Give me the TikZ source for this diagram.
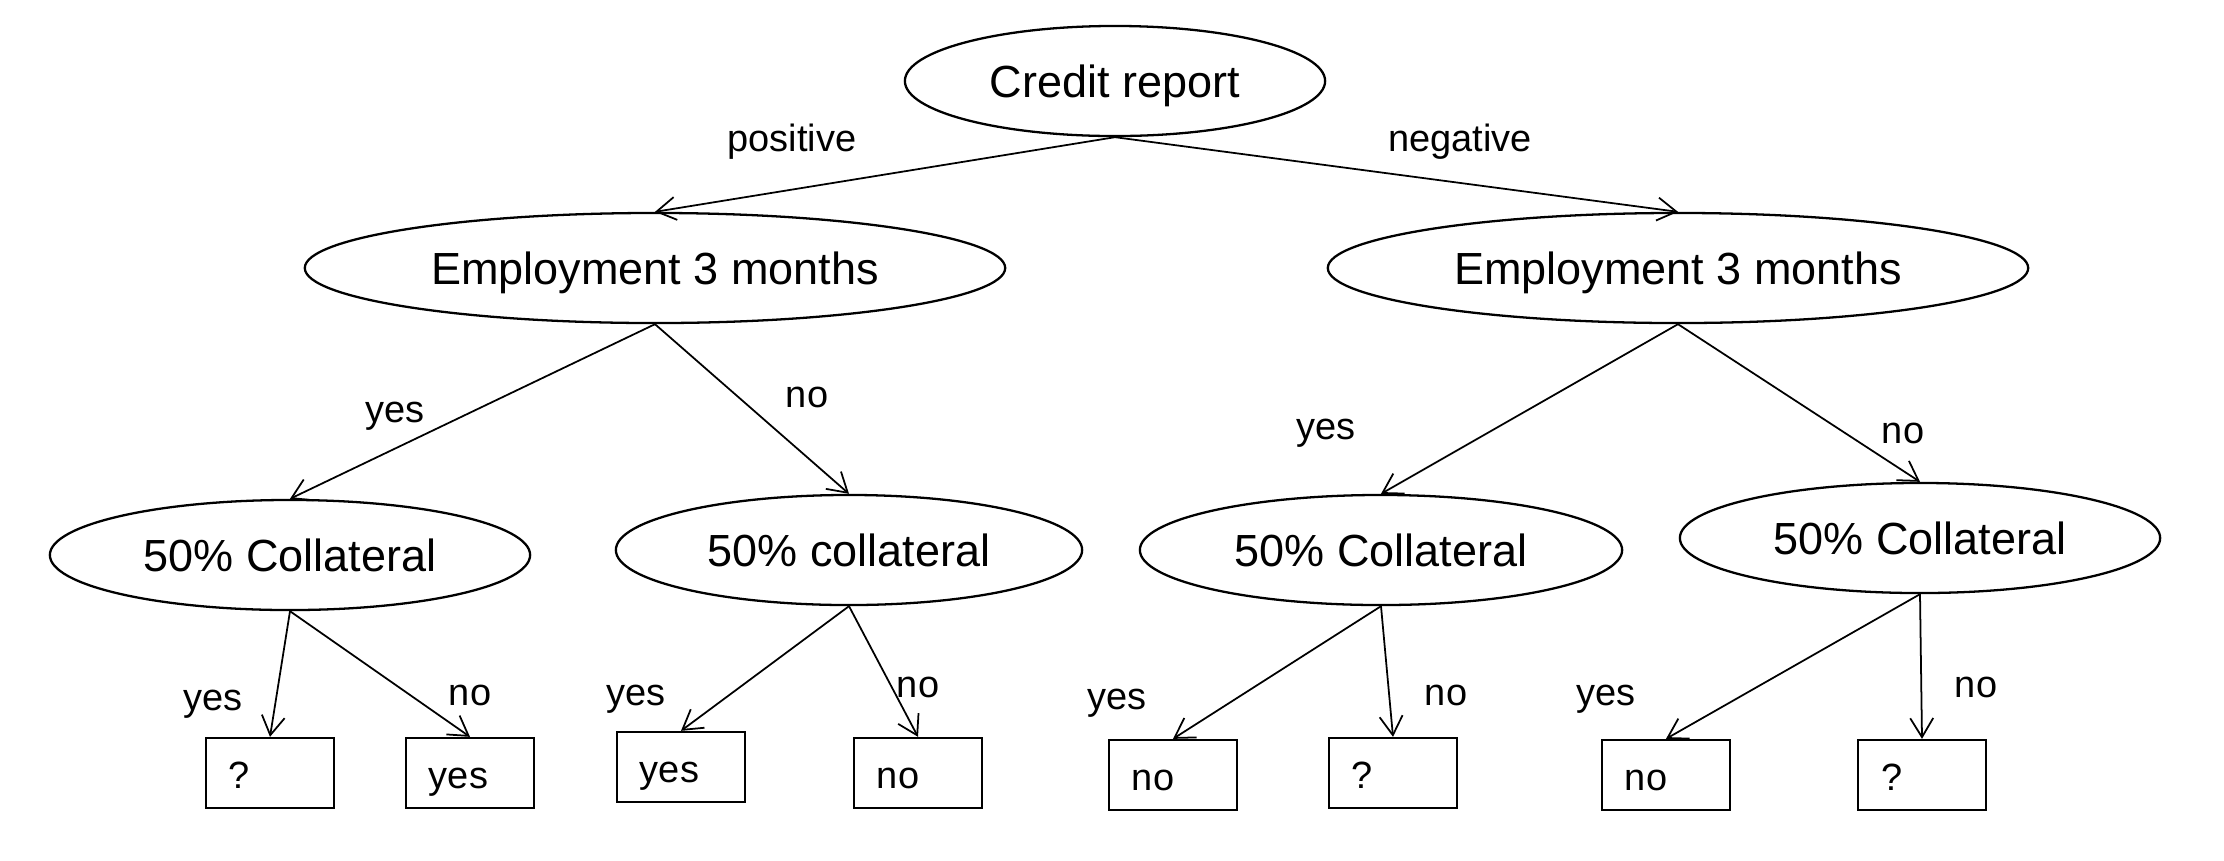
\documentclass[tikz,border=0pt]{standalone}
\usepackage{fontspec}
\setmainfont{Liberation Sans}
\usetikzlibrary{shapes.geometric,arrows.meta}

\begin{document}
\begin{tikzpicture}[x=0.01cm, y=-0.01cm,
    question/.style={draw, ellipse, line width=0.65pt, inner sep=0pt, minimum height=1.1cm,
        font=\fontsize{12.8}{15}\selectfont, text height=0.32cm, text depth=0pt},
    leaf/.style={draw, rectangle, line width=0.65pt, minimum height=0.7cm, text width=0.82cm,
        inner xsep=0.23cm, inner ysep=0pt, align=left,
        font=\fontsize{10.8}{13}\selectfont, text height=0.3cm, text depth=0pt},
    lab/.style={inner sep=0pt, font=\fontsize{10.8}{13}\selectfont, text height=0.28cm, text depth=0.08cm},
    branch/.style={-{Straight Barb[length=1.9mm,width=2.3mm]}, line width=0.5pt}]
    \useasboundingbox (0,0) rectangle (2224,860);

    % tests
    \node[question, minimum width=4.2cm] (credit) at (1115,81) {Credit report};
    \node[question, minimum width=7cm] (emplL) at (655,268) {Employment 3 months};
    \node[question, minimum width=7cm] (emplR) at (1678,268) {Employment 3 months};
    \node[question, minimum width=4.8cm] (collLL) at (290,555) {50\% Collateral};
    \node[question, minimum width=4.66cm] (collLR) at (849,550) {50\% collateral};
    \node[question, minimum width=4.82cm] (collRL) at (1381,550) {50\% Collateral};
    \node[question, minimum width=4.8cm] (collRR) at (1920,538) {50\% Collateral};

    % outcomes
    \node[leaf] (leafA) at (270,773) {?};
    \node[leaf] (leafB) at (470,773) {yes};
    \node[leaf] (leafC) at (681,767) {yes};
    \node[leaf] (leafD) at (918,773) {no};
    \node[leaf] (leafE) at (1173,775) {no};
    \node[leaf] (leafF) at (1393,773) {?};
    \node[leaf] (leafG) at (1666,775) {no};
    \node[leaf] (leafH) at (1922,775) {?};

    % branches
    \draw[branch] (credit.south) -- (emplL.north);
    \draw[branch] (credit.south) -- (emplR.north);
    \draw[branch] (emplL.south) -- (collLL.north);
    \draw[branch] (emplL.south) -- (collLR.north);
    \draw[branch] (emplR.south) -- (collRL.north);
    \draw[branch] (emplR.south) -- (collRR.north);
    \draw[branch] (collLL.south) -- (leafA.north);
    \draw[branch] (collLL.south) -- (leafB.north);
    \draw[branch] (collLR.south) -- (leafC.north);
    \draw[branch] (collLR.south) -- (leafD.north);
    \draw[branch] (collRL.south) -- (leafE.north);
    \draw[branch] (collRL.south) -- (leafF.north);
    \draw[branch] (collRR.south) -- (leafG.north);
    \draw[branch] (collRR.south) -- (leafH.north);

    % branch labels
    \node[lab] (labPos) at (792,141) {positive};
    \node[lab] (labNeg) at (1460,141) {negative};
    \node[lab] (labLy) at (395,412) {yes};
    \node[lab] (labLn) at (807,397) {no};
    \node[lab] (labRy) at (1326,429) {yes};
    \node[lab] (labRn) at (1903,433) {no};
    \node[lab] (labAy) at (213,700) {yes};
    \node[lab] (labBn) at (470,695) {no};
    \node[lab] (labCy) at (636,695) {yes};
    \node[lab] (labDn) at (918,687) {no};
    \node[lab] (labEy) at (1117,699) {yes};
    \node[lab] (labFn) at (1446,695) {no};
    \node[lab] (labGy) at (1606,695) {yes};
    \node[lab] (labHn) at (1976,687) {no};
\end{tikzpicture}
\end{document}
